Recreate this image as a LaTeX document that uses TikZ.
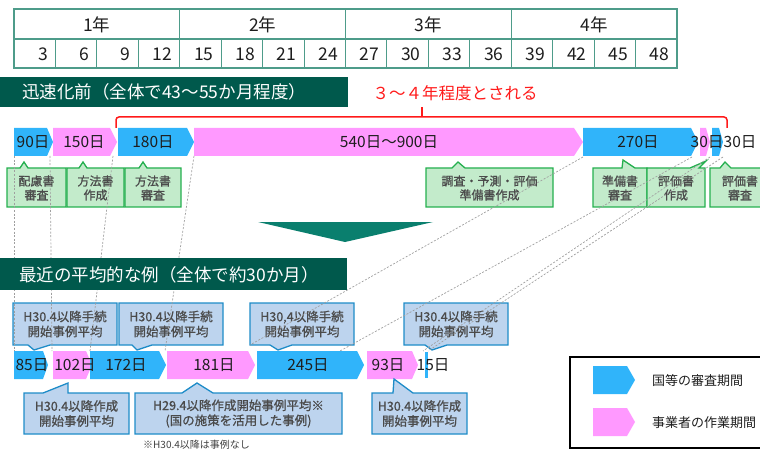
\documentclass[tikz,border=0pt]{standalone}
\usepackage{fontspec}
\setmainfont{Noto Sans CJK JP}
\newfontfamily\jpbold{Noto Sans CJK JP}[FakeBold=0.9]
\usetikzlibrary{calc}
\definecolor{tblc}{HTML}{4E9C8A}
\definecolor{bann}{HTML}{00594C}
\definecolor{ablue}{HTML}{30B4FA}
\definecolor{apink}{HTML}{FF99FF}
\definecolor{gfill}{HTML}{C3EBCB}
\definecolor{gline}{HTML}{25B04F}
\definecolor{bfill}{HTML}{BDD4EE}
\definecolor{bline}{HTML}{1E8CC8}
\definecolor{tealc}{HTML}{0A7F6E}
\definecolor{redc}{HTML}{FF1A1A}
\definecolor{txtc}{HTML}{1E1E1E}
\newcommand\penta[5]{\fill[#5] (#1,#4) -- ({#2-#3},#4) -- (#2,{#4+14}) -- ({#2-#3},{#4+28}) -- (#1,{#4+28}) -- cycle;}
\newcommand\gbox[6]{\draw[gcall] (#1,168) -- (#3,168) -- (#4,#5) -- (#6,168) -- (#2,168) -- (#2,207) -- (#1,207) -- cycle;}
\newcommand\bboxtop[5]{\draw[bcall] (#1,303) -- (#2,303) -- (#2,345) -- (#5,345) -- (#4,350) -- (#3,345) -- (#1,345) -- cycle;}
\newcommand\bboxbot[6]{\draw[bcall] (#1,393) -- (#3,393) -- (#4,#5) -- (#6,393) -- (#2,393) -- (#2,434) -- (#1,434) -- cycle;}
\begin{document}
\begin{tikzpicture}[x=1pt,y=-1pt,
  tbl/.style={draw=tblc,line width=1.1pt},
  ttxt/.style={font=\fontsize{17.5}{19}\selectfont,text=txtc,inner sep=0pt},
  bantxt/.style={font=\fontsize{17.5}{20}\selectfont,text=white,inner sep=0pt,anchor=west},
  alab/.style={font=\fontsize{15.5}{17}\selectfont,text=txtc,inner sep=0pt},
  gcall/.style={draw=gline,fill=gfill,line width=1.3pt,line join=miter},
  gtxt/.style={font=\jpbold\fontsize{12}{14}\selectfont,text=txtc!80,align=center,inner sep=0pt},
  bcall/.style={draw=bline,fill=bfill,line width=1.3pt,line join=miter},
  btxt/.style={font=\jpbold\fontsize{12.5}{15}\selectfont,text=txtc!80,align=center,inner sep=0pt},
  dline/.style={draw=gray!75,line width=0.7pt,dash pattern=on 2pt off 1.6pt},
  legtxt/.style={font=\fontsize{13}{15}\selectfont,text=txtc,anchor=west,inner sep=0pt}]
\useasboundingbox (0,0) rectangle (760,449);

% ---------- table ----------
\draw[tbl] (14,9) rectangle (677,68);
\draw[tbl] (14,39) -- (677,39);
\foreach \i in {1,...,15}{\draw[tbl] ({14+\i*41.4375},39) -- ({14+\i*41.4375},68);}
\foreach \i in {1,2,3}{\draw[tbl] ({14+\i*165.75},9) -- ({14+\i*165.75},39);}
\foreach \i in {1,2,3,4}{\node[ttxt] (yr\i) at ({14+(\i-0.5)*165.75},24.5) {\i 年};}
\foreach \i in {1,...,16}{\pgfmathtruncatemacro\mm{3*\i}
  \node[ttxt,anchor=east] (mo\i) at ({14+\i*41.4375-7.5},54) {\mm};}

% ---------- banner 1 ----------
\fill[bann] (0,77) rectangle (348,107);
\node[bantxt] (ban1) at (22,92) {迅速化前（全体で43～55か月程度）};

% ---------- red bracket ----------
\draw[redc,line width=1.5pt,rounded corners=3pt] (116,128) -- (116,117) -- (727,117) -- (727,128);
\coordinate (brtop) at (422,107);
\coordinate (brmid) at (422,117);
\draw[redc,line width=1.5pt] (brmid) -- (brtop);
\node[font=\fontsize{16.5}{18}\selectfont,text=redc,inner sep=0pt] (redtxt) at (455,93) {３～４年程度とされる};

% ---------- row 1 arrows ----------
\penta{14}{53}{6}{128}{ablue}
\penta{53}{117}{7}{128}{apink}
\penta{118}{194}{7}{128}{ablue}
\penta{194}{583}{9}{128}{apink}
\penta{583}{698}{7}{128}{ablue}
\penta{700}{710}{4}{128}{apink}
\penta{712}{723}{4}{128}{ablue}
\node[alab] (r90) at (33,142) {90日};
\node[alab] (r150) at (84,142) {150日};
\node[alab] (r180) at (153,142) {180日};
\node[alab] (r540) at (389,142) {540日～900日};
\node[alab] (r270) at (638,142) {270日};
\node[alab] (r30a) at (707,142) {30日};
\node[alab] (r30b) at (740,142) {30日};

% ---------- green callouts ----------
\gbox{7}{66}{20}{24}{162}{28}
\gbox{67}{124}{79}{83}{162}{87}
\gbox{125}{181}{139}{143}{162}{147}
\gbox{426}{553}{452}{458}{162}{465}
\gbox{593}{647}{622}{623}{160}{635}
\gbox{647}{705}{690}{706}{161}{699}
\gbox{710}{770}{720}{725}{162}{731}
\node[gtxt] (g1) at (36.5,188) {配慮書\\審査};
\node[gtxt] (g2) at (95.5,188) {方法書\\作成};
\node[gtxt] (g3) at (153,188) {方法書\\審査};
\node[gtxt] (g4) at (489.5,188) {調査・予測・評価\\準備書作成};
\node[gtxt] (g5) at (620,188) {準備書\\審査};
\node[gtxt] (g6) at (676,188) {評価書\\作成};
\node[gtxt] (g7) at (740,188) {評価書\\審査};

% ---------- blue callouts (upper) ----------
\bboxtop{13}{117}{28}{34}{50}
\bboxtop{119}{223}{132}{137}{152}
\bboxtop{250}{354}{270}{278}{292}
\bboxtop{404}{508}{425}{432}{447}
\node[btxt] (c1) at (65,324) {H30.4以降手続\\開始事例平均};
\node[btxt] (c2) at (171,324) {H30.4以降手続\\開始事例平均};
\node[btxt] (c3) at (302,324) {H30,4以降手続\\開始事例平均};
\node[btxt] (c4) at (456,324) {H30.4以降手続\\開始事例平均};

% ---------- dashed connectors ----------
\coordinate (t1) at (14,156);  \coordinate (b1) at (14,351);
\coordinate (t2) at (50,156);  \coordinate (b2) at (52,351);
\coordinate (t3) at (113,156); \coordinate (b3) at (90,351);
\coordinate (t4) at (194,156); \coordinate (b4) at (165,351);
\coordinate (t5) at (583,157); \coordinate (b5) at (250,345);
\coordinate (t6) at (692,157); \coordinate (b6) at (340,351);
\coordinate (t7) at (710,157); \coordinate (b7) at (423,351);
\coordinate (t8) at (723,157); \coordinate (b8) at (428,351);
\foreach \k in {1,...,8}{\draw[dline] (t\k) -- (b\k);}

% ---------- banner 2 + arrow ----------
\fill[bann] (0,258) rectangle (347,290);
\node[bantxt] (ban2) at (19,274.5) {最近の平均的な例（全体で約30か月）};
\fill[tealc] (258,222) -- (433,222) -- (345,242) -- cycle;

% ---------- row 2 arrows ----------
\penta{14}{48}{5}{351}{ablue}
\penta{53}{92}{6}{351}{apink}
\penta{90}{166}{7}{351}{ablue}
\penta{167}{255}{7}{351}{apink}
\penta{257}{364}{7}{351}{ablue}
\penta{367}{418}{6}{351}{apink}
\fill[ablue] (424.5,352) rectangle (427.5,378);
\node[alab] (s85) at (32,365) {85日};
\node[alab] (s102) at (75,365) {102日};
\node[alab] (s172) at (126,365) {172日};
\node[alab] (s181) at (214,365) {181日};
\node[alab] (s245) at (308,365) {245日};
\node[alab] (s93) at (388,365) {93日};
\node[alab] (s15) at (433,365) {15日};

% ---------- blue callouts (lower) ----------
\bboxbot{24}{129}{43}{68}{383}{68}
\bboxbot{135}{342}{182}{197}{383}{213}
\bboxbot{372}{467}{393}{394}{379}{413}
\node[btxt] (d1) at (76.5,413.5) {H30.4以降作成\\開始事例平均};
\node[btxt] (d2) at (238.5,413.5) {H29.4以降作成開始事例平均※\\(国の施策を活用した事例)};
\node[btxt] (d3) at (419.5,413.5) {H30.4以降作成\\開始事例平均};
\node[font=\fontsize{10}{12}\selectfont,text=txtc!85,anchor=west,inner sep=0pt] (note) at (143,445) {※H30.4以降は事例なし};

% ---------- legend ----------
\draw[line width=1.5pt] (570,357) rectangle (775,448);
\penta{593}{635}{8}{366}{ablue}
\penta{593}{635}{8}{408}{apink}
\node[legtxt] (lg1) at (652,381) {国等の審査期間};
\node[legtxt] (lg2) at (652,423) {事業者の作業期間};
\end{tikzpicture}
\end{document}
